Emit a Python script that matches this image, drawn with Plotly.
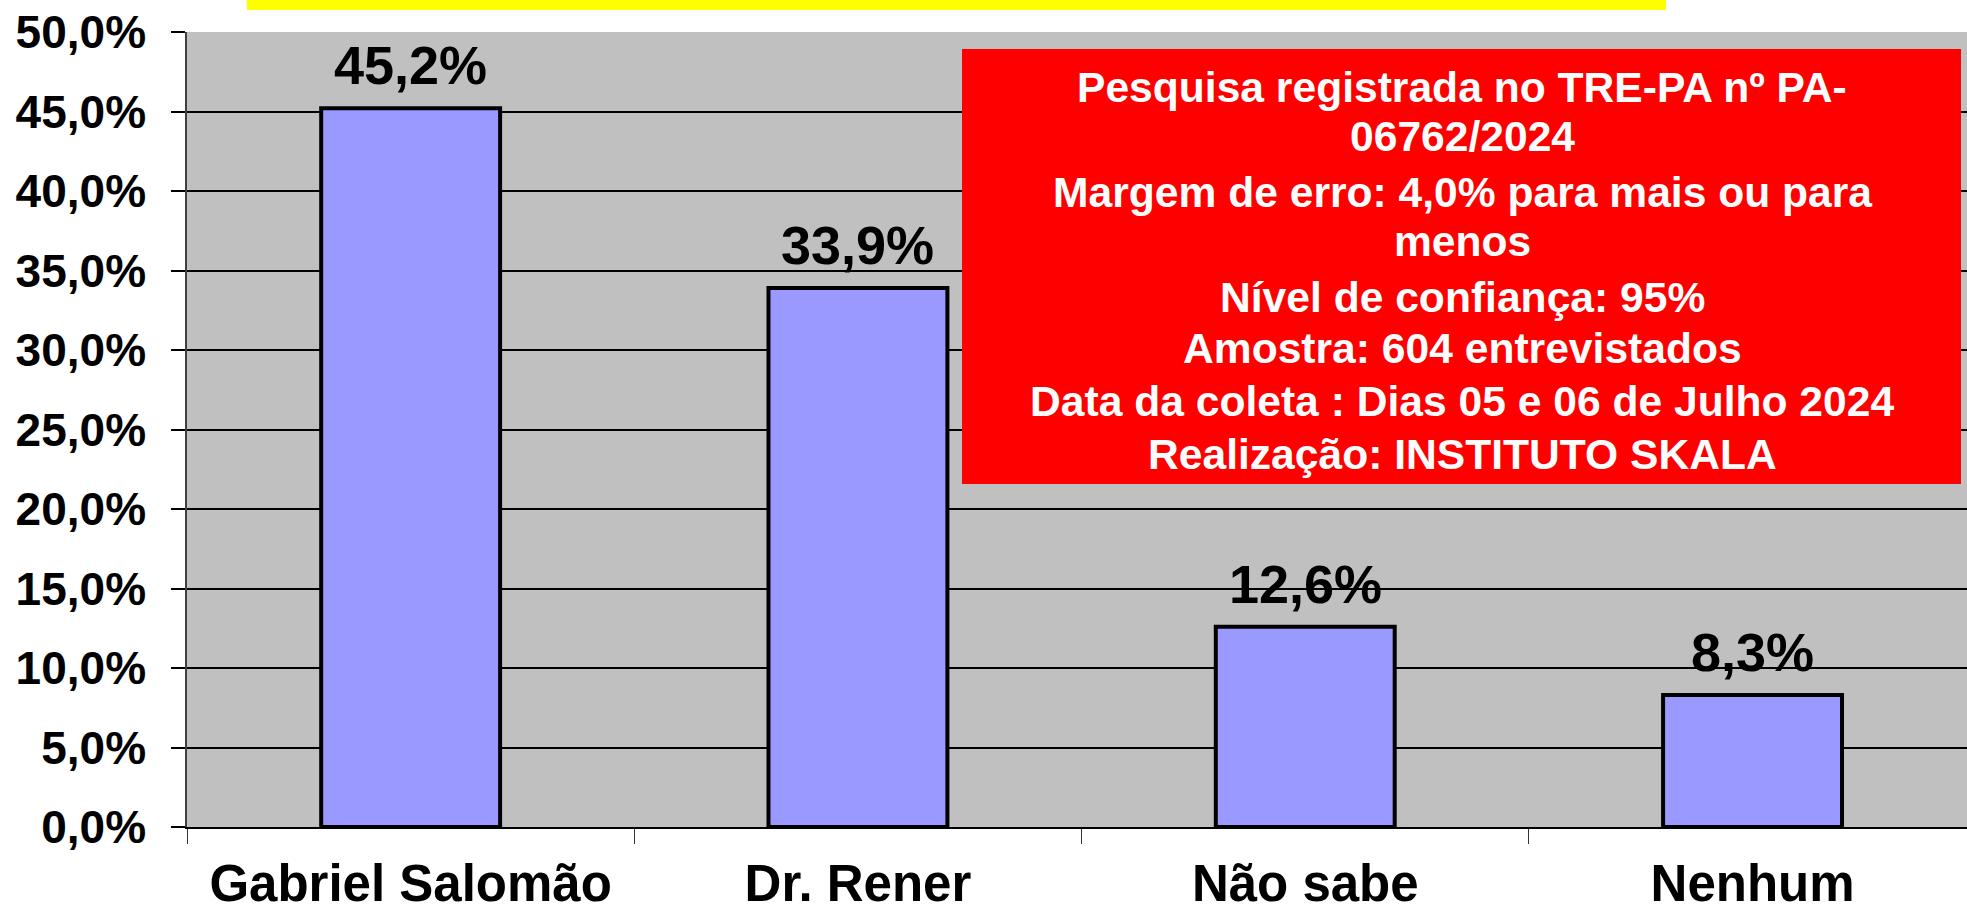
import plotly.graph_objects as go

# ---- data ----
categories = ["Gabriel Salomão", "Dr. Rener", "Não sabe", "Nenhum"]
values = [0.452, 0.339, 0.126, 0.083]
y_ticks = [0.0, 0.05, 0.10, 0.15, 0.20, 0.25, 0.30, 0.35, 0.40, 0.45, 0.50]
info_lines = [
    "Pesquisa registrada no TRE-PA nº PA-",
    "06762/2024",
    "Margem de erro: 4,0% para mais ou para",
    "menos",
    "Nível de confiança: 95%",
    "Amostra: 604 entrevistados",
    "Data da coleta : Dias 05 e 06 de Julho 2024",
    "Realização: INSTITUTO SKALA",
]

# ---- layout geometry (pixels) ----
W, H = 1967, 912
ML, MR, MT, MB = 187, 0, 32, H - 827
PW, PH = W - ML - MR, H - MT - MB
CAT_PX = 447.3  # pixel width of one category slot
FONT = "Liberation Sans, Arial, sans-serif"


def px_x(sx):
    return (sx - ML) / PW


def px_y(sy):
    return (H - MB - sy) / PH


fig = go.Figure()
fig.add_trace(go.Bar(
    x=categories, y=values, width=0.4,
    marker=dict(color="#9999FF", line=dict(color="black", width=4)),
    hoverinfo="skip",
))

# value labels above bars
for c, v in zip(categories, values):
    fig.add_annotation(
        x=c, y=v, xref="x", yref="y", text=f"{v*100:.1f}%".replace(".", ","),
        showarrow=False, yanchor="bottom", yshift=11,
        font=dict(family=FONT, size=54, color="black", weight="bold"),
    )

# yellow banner (cut off at top)
fig.add_shape(type="rect", xref="paper", yref="paper",
              x0=px_x(247), x1=px_x(1666), y0=px_y(10), y1=px_y(0),
              fillcolor="#FFFF00", line=dict(width=0), layer="above")

# red info box
fig.add_shape(type="rect", xref="paper", yref="paper",
              x0=px_x(962), x1=px_x(1961), y0=px_y(484), y1=px_y(49),
              fillcolor="#FF0000", line=dict(width=0), layer="above")
line_y = [87, 136, 192, 241, 297, 348, 401, 454]
for t, yy in zip(info_lines, line_y):
    fig.add_annotation(
        x=px_x(1462), y=px_y(yy), xref="paper", yref="paper", text=t,
        showarrow=False, xanchor="center", yanchor="middle",
        font=dict(family=FONT, size=42.6, color="white", weight="bold"),
    )

fig.update_layout(
    width=W, height=H,
    margin=dict(l=ML, r=MR, t=MT, b=MB, pad=0, autoexpand=False),
    paper_bgcolor="white", plot_bgcolor="#C0C0C0",
    separators=",.",
    showlegend=False,
)
fig.update_xaxes(
    type="category", range=[-0.5, -0.5 + PW / CAT_PX], automargin=False,
    tickson="boundaries", ticks="outside", ticklen=15,
    tickcolor="#333333", tickwidth=1, showgrid=False,
    showline=True, linecolor="black", linewidth=1.5,
    tickfont=dict(family=FONT, size=51, color="black", weight="bold"),
    ticklabelstandoff=11,
)
fig.update_yaxes(
    range=[0, 0.5], tickvals=y_ticks, tickformat=".1%", automargin=False,
    ticks="outside", ticklen=14, tickcolor="black", tickwidth=1.5,
    showgrid=True, gridcolor="black", gridwidth=1.5,
    showline=True, linecolor="#404040", linewidth=1.5,
    zeroline=False, ticklabeloverflow="allow", ticklabelstandoff=16,
    tickfont=dict(family=FONT, size=46, color="black", weight="bold"),
)

fig.write_html(
    "out.html",
    config={"displayModeBar": False},
    post_script="document.body.style.margin='0';document.body.style.overflow='hidden';",
)
